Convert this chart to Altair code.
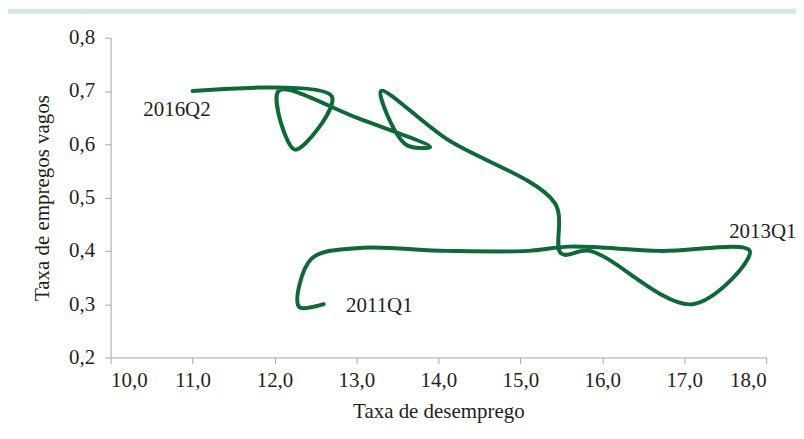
import altair as alt
import pandas as pd

# Quarterly Beveridge curve
quarters = ["2011Q1", "2011Q2", "2011Q3", "2011Q4",
            "2012Q1", "2012Q2", "2012Q3", "2012Q4",
            "2013Q1", "2013Q2", "2013Q3", "2013Q4",
            "2014Q1", "2014Q2", "2014Q3", "2014Q4",
            "2015Q1", "2015Q2", "2015Q3", "2015Q4",
            "2016Q1", "2016Q2"]
unemployment = [12.6, 12.3, 12.45, 13.0,
                14.1, 15.1, 15.6, 16.7,
                17.8, 17.1, 15.85, 15.5,
                15.42, 14.1, 13.3, 13.6,
                13.9, 13.0, 12.05, 12.25,
                12.7, 11.0]
vacancies = [0.300, 0.295, 0.385, 0.405,
             0.400, 0.400, 0.408, 0.400,
             0.400, 0.300, 0.400, 0.395,
             0.490, 0.610, 0.700, 0.600,
             0.595, 0.650, 0.700, 0.590,
             0.690, 0.700]

label_text = ["2011Q1", "2013Q1", "2016Q2"]
label_x = [13.28, 17.96, 10.81]
label_y = [0.297, 0.435, 0.664]

x_ticks = [10, 11, 12, 13, 14, 15, 16, 17, 18]
y_ticks = [0.2, 0.3, 0.4, 0.5, 0.6, 0.7, 0.8]

GREEN = "#0b6a37"
TEXT = "#231f20"
AXIS = "#a6a6a6"
FONT = "Liberation Serif"

df = pd.DataFrame({"t": list(range(len(quarters))), "q": quarters,
                   "u": unemployment, "v": vacancies})
lab = pd.DataFrame({"label": label_text, "u": label_x, "v": label_y})

comma = "replace(format(datum.value, '.1f'), '.', ',')"

x_enc = alt.X("u:Q",
              scale=alt.Scale(domain=[10, 18], nice=False, zero=False),
              axis=alt.Axis(values=x_ticks, labelExpr=comma,
                            title="Taxa de desemprego"))
y_enc = alt.Y("v:Q",
              scale=alt.Scale(domain=[0.2, 0.8], nice=False, zero=False),
              axis=alt.Axis(values=y_ticks, labelExpr=comma,
                            title="Taxa de empregos vagos"))

line = alt.Chart(df).mark_line(
    interpolate="catmull-rom", color=GREEN, strokeWidth=4, strokeCap="round"
).encode(x=x_enc, y=y_enc, order="t:Q")

text = alt.Chart(lab).mark_text(
    font=FONT, fontSize=21, color=TEXT, align="center", baseline="middle"
).encode(x="u:Q", y="v:Q", text="label:N")

band = alt.Chart(pd.DataFrame({"a": [0]})).mark_rect(color="#d3e8df").encode(
    x=alt.value(-103), x2=alt.value(688), y=alt.value(-29), y2=alt.value(-24)
)

chart = alt.layer(band, line, text).properties(
    width=658, height=321,
    autosize=alt.AutoSizeParams(type="none"),
    padding={"left": 103, "top": 29, "right": 30, "bottom": 73},
    background="white",
).configure_view(stroke=None).configure_axis(
    grid=False,
    domainColor=AXIS, tickColor=AXIS, tickSize=6,
    labelFont=FONT, labelFontSize=21, labelColor=TEXT,
    titleFont=FONT, titleFontSize=21, titleColor=TEXT, titleFontWeight="normal",
).configure_axisY(labelPadding=10, titlePadding=16).configure_axisX(
    labelPadding=6, titlePadding=10)

chart.save("out.html", embed_options={"renderer": "svg", "actions": False})
